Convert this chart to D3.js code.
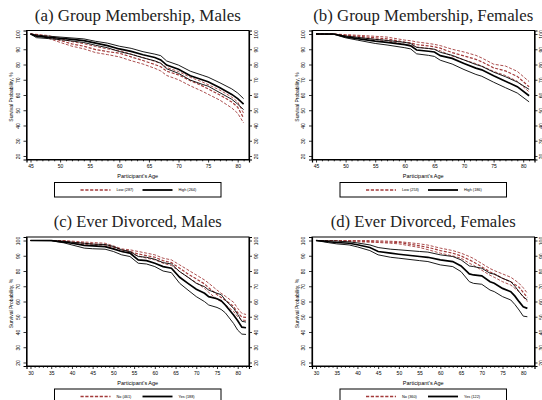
<!DOCTYPE html>
<html><head><meta charset="utf-8">
<script src="https://cdn.jsdelivr.net/npm/d3@7"></script>
<style>body{margin:0;background:#fff}svg{display:block}</style>
</head><body>
<svg id="chart" width="542" height="400"></svg>
<script>
// ---------- DATA ----------
const yTicks = [20, 30, 40, 50, 60, 70, 80, 90, 100];
const xTicksGroup = [45, 50, 55, 60, 65, 70, 75, 80];
const xTicksDivorce = [30, 35, 40, 45, 50, 55, 60, 65, 70, 75, 80];

const titles = ["(a) Group Membership, Males", "(b) Group Membership, Females",
                "(c) Ever Divorced, Males", "(d) Ever Divorced, Females"];
const legendRed = ["Low (287)", "Low (253)", "No (461)", "No (360)"];
const legendBlack = ["High (264)", "High (186)", "Yes (188)", "Yes (122)"];

// (a) Group Membership, Males
const agesA   = [45, 46, 48, 50, 52, 54, 56, 58, 60, 62, 64, 66, 67, 68, 70, 72, 74, 75, 77, 79, 80, 81];
const highUpA = [100, 99.3, 98.6, 98, 97.4, 96.8, 95.2, 94, 92, 90.6, 88.4, 86.8, 85.8, 82.3, 79.6, 75.6, 73, 71.7, 68, 64, 61.3, 57.6];
const highA   = [100, 98.6, 97.8, 97.2, 96.5, 95.7, 94, 92.4, 90.2, 88.6, 86.4, 84.6, 83, 79.6, 76.9, 72.6, 70, 68.7, 64.8, 60.4, 57.6, 54];
const highLoA = [100, 97.6, 97.0, 96.3, 95.4, 94.4, 92.6, 91, 88.5, 86.7, 84.4, 82.4, 80.8, 77.2, 74.2, 69.8, 67, 65.8, 61.5, 57.2, 54, 50.4];
const lowUpA  = [100, 99.8, 99, 97, 95, 93.6, 91.8, 90.2, 89.2, 86.8, 84.6, 82, 80.8, 78, 75.4, 71.6, 68.6, 66.8, 63.2, 58.6, 55.5, 48];
const lowA    = [100, 99.6, 98, 95.8, 93.5, 92, 89.8, 88.5, 87.4, 85, 82.6, 80, 78.5, 75.6, 73.2, 69.4, 66, 64, 60, 55.4, 52, 44.8];
const lowLoA  = [100, 99.2, 97.2, 94.5, 92, 90.3, 87.8, 86.5, 85, 82.5, 80.3, 77.5, 75.8, 72.8, 70, 66, 62.5, 60.5, 56.6, 51.5, 48, 41.7];

// (b) Group Membership, Females
const agesB   = [45, 48, 50, 52, 55, 57, 60, 61, 62, 64, 65, 66, 68, 70, 72, 73, 75, 77, 79, 81];
const highUpB = [100, 100, 98.7, 97.8, 96.5, 95.8, 94.5, 93.8, 91.2, 90.5, 90, 88, 86, 83, 80, 78.8, 75, 72, 68.5, 63.7];
const highB   = [100, 100, 98.1, 97, 95.3, 94.5, 93, 92.2, 89.5, 88.7, 88.2, 85.8, 84, 80.7, 77.6, 76.5, 72.6, 69, 65.5, 59.5];
const highLoB = [100, 99.8, 97.5, 96, 93.8, 92.8, 91, 90.2, 87, 86, 85.3, 82.8, 80.3, 76.7, 73.5, 72.3, 68.4, 64.8, 61.3, 55.5];
const lowUpB  = [100, 100, 99.6, 99.2, 98.5, 98, 96, 95.6, 94.8, 93.8, 93.2, 92.4, 90, 88.2, 86, 84.3, 80.2, 79, 75.5, 68.8];
const lowB    = [100, 99.9, 99.2, 98.6, 97.5, 96.8, 94.7, 94.1, 93.1, 92.2, 91.6, 90.7, 87.8, 85.6, 83.4, 81.8, 77.8, 75.8, 72.2, 65.4];
const lowLoB  = [100, 99.8, 98.9, 98, 96.4, 95.6, 93.2, 92.6, 91.5, 90.5, 89.9, 89, 85.5, 83, 80.6, 79, 75.5, 72.8, 69, 62];

// (c) Ever Divorced, Males
const agesC   = [30, 35, 38, 40, 43, 45, 48, 50, 52, 54, 56, 58, 60, 62, 64, 66, 68, 70, 72, 73, 75, 76, 77, 79, 80, 81, 82];
const yesUpC  = [100, 100, 99.5, 98.9, 98.2, 97.6, 97.4, 96.1, 93.9, 92.8, 89.5, 89, 87.7, 85.5, 84.6, 79.6, 75.9, 71.9, 69.7, 67.5, 65.4, 64.5, 61, 55.5, 51.5, 47, 46.5];
const yesC    = [100, 100, 99, 98.2, 96.8, 96.5, 96, 94.5, 92.8, 91.7, 87.3, 86.8, 85.1, 82.9, 81.8, 75.9, 71.9, 68, 65.4, 63.2, 61.8, 60.5, 57.7, 51.1, 47.4, 43.2, 42.8];
const yesLoC  = [100, 99.8, 98.5, 97.1, 95, 94.6, 94.3, 92.8, 90.6, 89.5, 85.1, 84.6, 82.9, 80, 78.9, 71.9, 67.5, 63.2, 59.9, 57.7, 56.1, 54.8, 52.6, 45.6, 41.2, 38.6, 38.4];
const noUpC   = [100, 100, 100, 99.6, 99, 98.7, 98.2, 96.5, 94.5, 93.9, 92.8, 91.7, 90.6, 88.4, 87.3, 84, 80.7, 77.4, 74.1, 72, 67.5, 65.4, 63.5, 59.5, 55.5, 52.2, 51.5];
const noC     = [100, 100, 99.8, 98.9, 98.3, 97.8, 97.1, 95.6, 93.9, 92.8, 91.2, 90.1, 89, 86.8, 85.5, 81.8, 78.1, 74.8, 71.5, 69, 64.5, 62.7, 60.8, 56.8, 52.6, 49.8, 49.6];
const noLoC   = [100, 100, 99.6, 98.2, 97.5, 96.9, 96, 94.5, 92.8, 91.7, 89.9, 88.4, 87.3, 85.1, 83.6, 79.6, 75.9, 72.4, 68.6, 66, 61.5, 59.9, 58, 53.5, 50, 47.8, 47.6];

// (d) Ever Divorced, Females
const agesD   = [30, 33, 35, 38, 40, 43, 45, 48, 50, 55, 57, 60, 63, 65, 67, 68, 70, 72, 73, 75, 77, 78, 79, 80, 81];
const yesUpD  = [100, 99.8, 99.6, 99.1, 98.4, 97.1, 95.4, 94.3, 93.9, 92.8, 92.4, 90.6, 89.5, 87.3, 83.3, 82.9, 81.8, 78.5, 78, 75.2, 73, 70, 66.4, 63.2, 61];
const yesD    = [100, 99.2, 98.7, 98.2, 97.2, 95.4, 92.8, 91.7, 91, 89.5, 89, 87.3, 86.2, 83.3, 78.1, 77.4, 76.8, 73, 72, 68.6, 66.4, 63.5, 59.9, 56.6, 55.5];
const yesLoD  = [100, 98.6, 97.8, 97.1, 95.8, 93.4, 90.6, 89, 88.4, 86.8, 86.2, 84, 82.9, 79.6, 73, 71.9, 71.3, 67.5, 66.5, 63.2, 61, 58, 54.4, 50.4, 50];
const noUpD   = [100, 100, 100, 100, 100, 100, 99.8, 99.5, 99.3, 97.8, 97, 95, 93.4, 91.7, 89.5, 88.2, 84.9, 81.6, 80.3, 78.1, 75.9, 74, 71.9, 69, 65.4];
const noD     = [100, 100, 100, 99.8, 99.6, 99.3, 99.1, 98.9, 98.7, 96.5, 95.5, 93.4, 91.7, 89.9, 87.3, 86, 82.7, 79.4, 78.1, 75.2, 73, 71.2, 69.3, 66, 62.7];
const noLoD   = [100, 100, 99.8, 99.4, 99.1, 98.9, 98.7, 98.2, 97.8, 95.4, 94, 91.7, 89.9, 88.4, 85.1, 83.8, 80.5, 77.2, 75.9, 73, 70.8, 68.6, 66.4, 63, 59.9];

// ---------- LAYOUT ----------
const RED = "#a33b3b";
const panels = [
  {ox: 0,     oy: 0,     xd: [44.32, 81.91], xt: xTicksGroup,   ages: agesA,
   red: [lowUpA, lowA, lowLoA], black: [highUpA, highA, highLoA], tw: 206},
  {ox: 285.5, oy: 0,     xd: [44.32, 81.91], xt: xTicksGroup,   ages: agesB,
   red: [lowUpB, lowB, lowLoB], black: [highUpB, highB, highLoB], tw: 220},
  {ox: 0,     oy: 206.5, xd: [29.04, 82.72], xt: xTicksDivorce, ages: agesC,
   red: [noUpC, noC, noLoC], black: [yesUpC, yesC, yesLoC], tw: 168},
  {ox: 285.5, oy: 206.5, xd: [29.04, 82.72], xt: xTicksDivorce, ages: agesD,
   red: [noUpD, noD, noLoD], black: [yesUpD, yesD, yesLoD], tw: 185}
];

const svg = d3.select("#chart");
svg.append("rect").attr("width", 542).attr("height", 400).attr("fill", "#fff");

panels.forEach((p, i) => {
  const L = 26.5 + p.ox, R = 249 + p.ox, T = 30.5 + p.oy, B = 159.5 + p.oy;
  const x = d3.scaleLinear().domain(p.xd).range([L, R]);
  const y = d3.scaleLinear().domain([17.7, 102.3]).range([B, T]);
  const g = svg.append("g");
  const cx = (L + R) / 2;

  // title
  g.append("text").attr("x", cx).attr("y", 20.5 + p.oy)
    .attr("text-anchor", "middle").attr("font-family", "Liberation Serif, serif")
    .attr("font-size", 16).attr("fill", "#222")
    .attr("textLength", p.tw).attr("lengthAdjust", "spacingAndGlyphs")
    .text(titles[i]);

  // lines
  const line = arr => d3.line().x((d, k) => x(p.ages[k])).y(d => y(d))(arr);
  p.red.forEach((s, k) => {
    g.append("path").attr("d", line(s)).attr("fill", "none").attr("stroke", RED)
      .attr("stroke-width", k === 1 ? 1.2 : 0.9).attr("stroke-dasharray", "3,1.6");
  });
  p.black.forEach((s, k) => {
    g.append("path").attr("d", line(s)).attr("fill", "none").attr("stroke", "#000")
      .attr("stroke-width", k === 1 ? 1.7 : 0.9);
  });

  // frame
  g.append("rect").attr("x", L).attr("y", T).attr("width", R - L).attr("height", B - T)
    .attr("fill", "none").attr("stroke", "#000").attr("stroke-width", 1);

  // y axes (left and right)
  const yl = d3.axisLeft(y).tickValues(yTicks).tickSize(3).tickFormat(d3.format("d"));
  const yr = d3.axisRight(y).tickValues(yTicks).tickSize(3).tickFormat(d3.format("d"));
  [[yl, L, -8.5], [yr, R, 7]].forEach(([ax, pos, off]) => {
    const a = g.append("g").attr("transform", `translate(${pos},0)`).call(ax);
    a.select(".domain").attr("stroke-width", 1.2);
    a.selectAll("line").attr("stroke-width", 0.8);
    a.selectAll("text")
      .attr("font-family", "Liberation Sans, Arial, sans-serif").attr("font-size", 5)
      .attr("fill", "#000")
      .attr("text-anchor", "middle")
      .attr("x", null).attr("dy", null)
      .attr("transform", `translate(${off},0) rotate(-90)`)
      .attr("dy", "0.35em");
  });

  // x axis: major and minor
  const minor = d3.range(Math.ceil(p.xd[0]), Math.floor(p.xd[1]) + 1).filter(v => !p.xt.includes(v));
  const xa = g.append("g").attr("transform", `translate(0,${B})`)
    .call(d3.axisBottom(x).tickValues(p.xt).tickSize(3).tickPadding(2).tickFormat(d3.format("d")));
  xa.select(".domain").attr("stroke-width", 1.2);
  xa.selectAll("line").attr("stroke-width", 0.8);
  xa.selectAll("text").attr("font-family", "Liberation Sans, Arial, sans-serif")
    .attr("font-size", 5).attr("fill", "#000");
  const xm = g.append("g").attr("transform", `translate(0,${B})`)
    .call(d3.axisBottom(x).tickValues(minor).tickSize(1.8).tickFormat(""));
  xm.select(".domain").remove();
  xm.selectAll("line").attr("stroke-width", 0.8);

  // axis titles
  g.append("text").attr("x", cx).attr("y", B + 18.5).attr("text-anchor", "middle")
    .attr("font-family", "Liberation Sans, Arial, sans-serif").attr("font-size", 5.5)
    .text("Participant's Age");
  g.append("text").attr("transform", `translate(${L - 15},${(T + B) / 2 + 2}) rotate(-90)`)
    .attr("text-anchor", "middle").attr("dy", "0.35em")
    .attr("font-family", "Liberation Sans, Arial, sans-serif").attr("font-size", 5)
    .text("Survival Probability, %");

  // legend
  const lx = 54.5 + p.ox, ly = B + 23;
  g.append("rect").attr("x", lx).attr("y", ly).attr("width", 166.5).attr("height", 14.5)
    .attr("fill", "#fff").attr("stroke", "#000").attr("stroke-width", 1);
  const my = ly + 7.5;
  g.append("line").attr("x1", lx + 26).attr("x2", lx + 56).attr("y1", my).attr("y2", my)
    .attr("stroke", RED).attr("stroke-width", 1.4).attr("stroke-dasharray", "3.2,1.6");
  g.append("text").attr("x", lx + 62).attr("y", my).attr("dy", "0.35em")
    .attr("font-family", "Liberation Sans, Arial, sans-serif").attr("font-size", 3.8)
    .text(legendRed[i]);
  g.append("line").attr("x1", lx + 88).attr("x2", lx + 118).attr("y1", my).attr("y2", my)
    .attr("stroke", "#000").attr("stroke-width", 1.8);
  g.append("text").attr("x", lx + 124).attr("y", my).attr("dy", "0.35em")
    .attr("font-family", "Liberation Sans, Arial, sans-serif").attr("font-size", 3.8)
    .text(legendBlack[i]);
});
</script>
</body></html>
